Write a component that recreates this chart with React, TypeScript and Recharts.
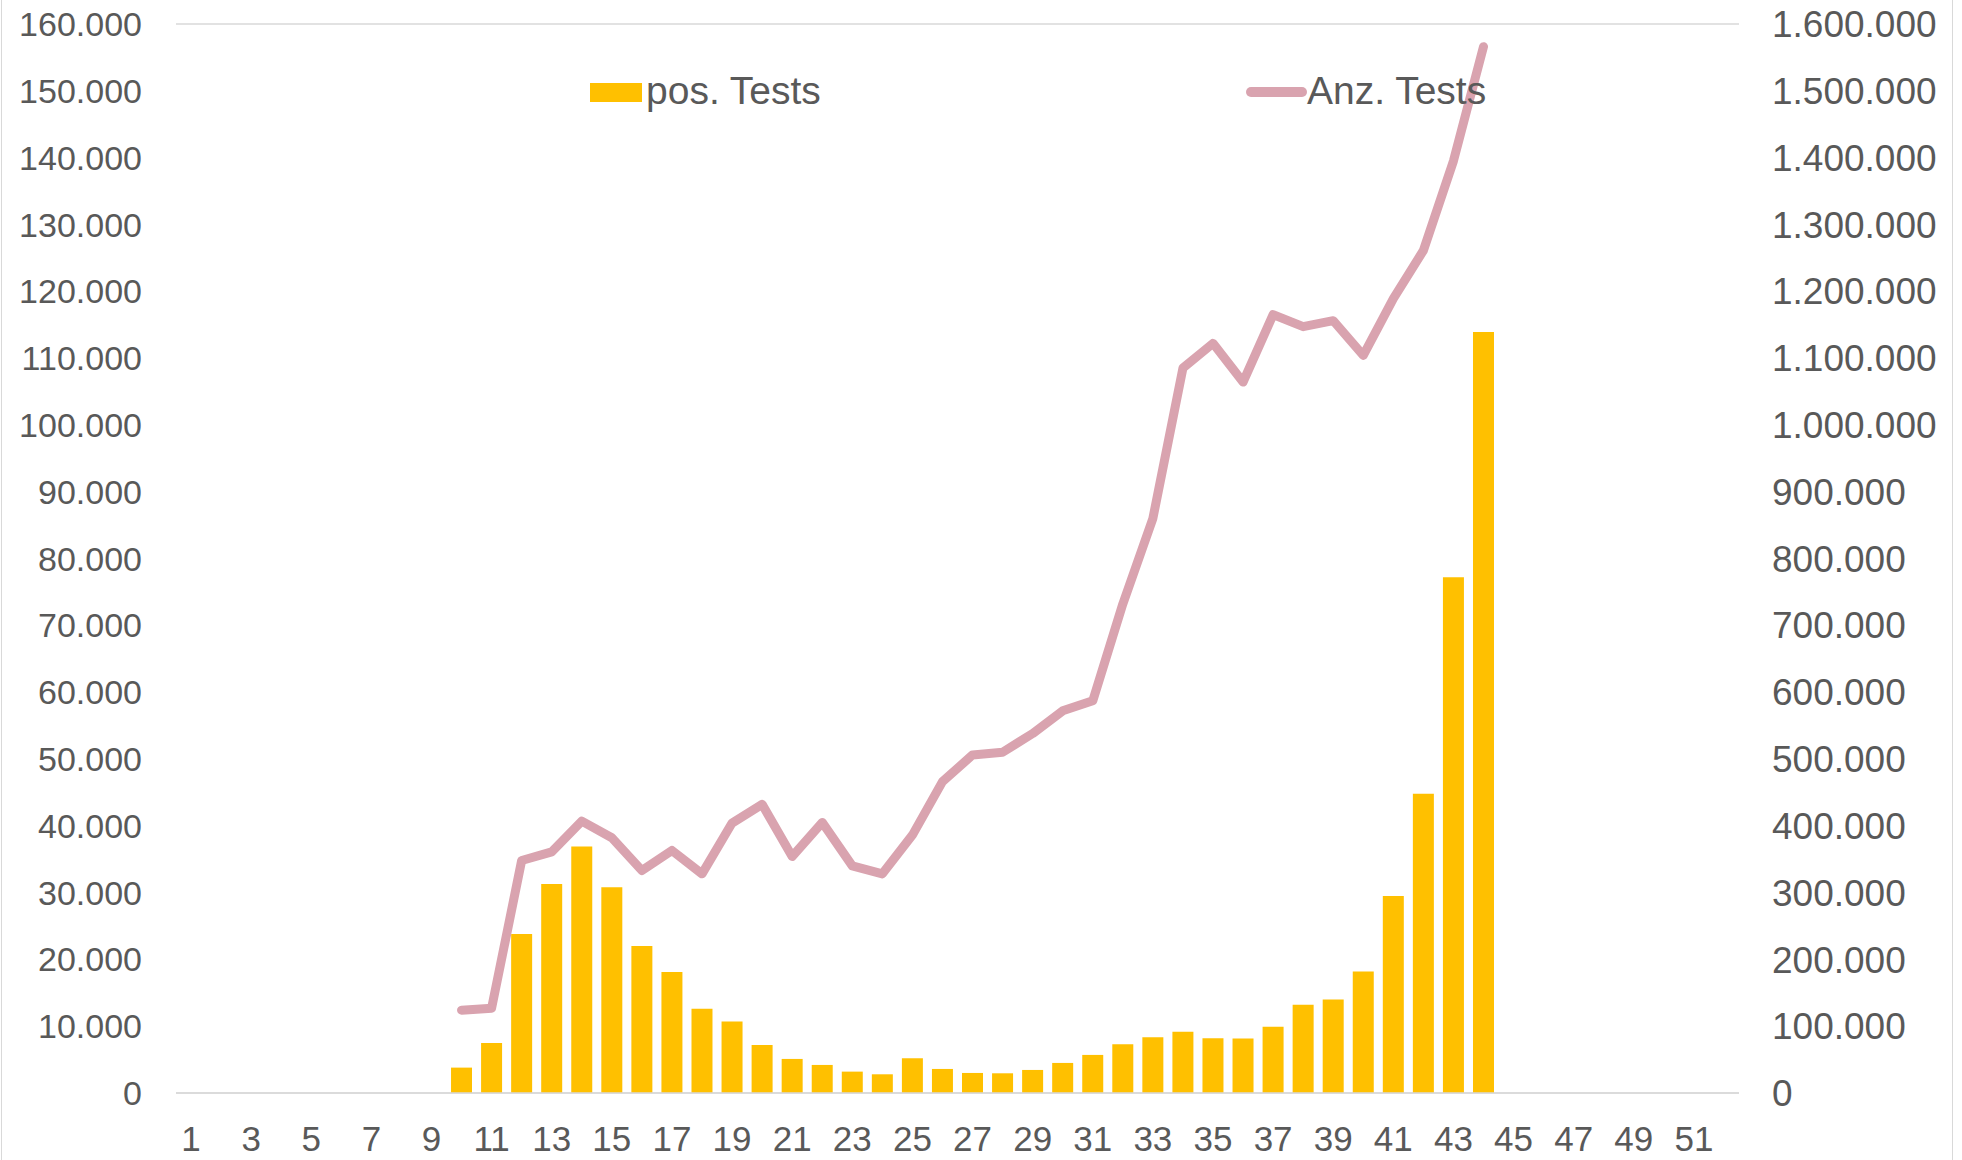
import React from 'react';
import { ComposedChart, Bar, Line, XAxis, YAxis, CartesianGrid, Legend } from 'recharts';

const weeks: number[] = Array.from({ length: 52 }, (_, i) => i + 1);

// pos. Tests for weeks 10..44
const posTestsFromWeek10: number[] = [
  3800, 7500, 23800, 31300, 36900, 30800, 22000, 18100, 12600, 10700,
  7200, 5100, 4200, 3200, 2800, 5200, 3600, 3000, 2950, 3450,
  4500, 5700, 7300, 8350, 9150, 8200, 8150, 9900, 13200, 14000,
  18200, 29500, 44800, 77200, 113900,
];

// Anz. Tests for weeks 10..44
const anzTestsFromWeek10: number[] = [
  124000, 127000, 348000, 361000, 407000, 382000, 333000, 363000, 328000, 404000,
  432000, 354000, 405000, 340000, 328000, 386000, 466000, 506000, 510000, 538000,
  572000, 587000, 732000, 860000, 1085000, 1122000, 1064000, 1165000, 1147000, 1156000,
  1104000, 1189000, 1261000, 1395000, 1566000,
];

const FIRST_WEEK = 10;

const leftTicks: number[] = [0, 10000, 20000, 30000, 40000, 50000, 60000, 70000, 80000, 90000, 100000, 110000, 120000, 130000, 140000, 150000, 160000];
const rightTicks: number[] = [0, 100000, 200000, 300000, 400000, 500000, 600000, 700000, 800000, 900000, 1000000, 1100000, 1200000, 1300000, 1400000, 1500000, 1600000];

const data = weeks.map((w) => {
  const idx = w - FIRST_WEEK;
  return {
    week: w,
    pos: idx >= 0 && idx < posTestsFromWeek10.length ? posTestsFromWeek10[idx] : null,
    anz: idx >= 0 && idx < anzTestsFromWeek10.length ? anzTestsFromWeek10[idx] : null,
  };
});

const fmt = (v: number) => String(v).replace(/\B(?=(\d{3})+(?!\d))/g, '.');

const FONT = '"Liberation Sans", Arial, sans-serif';
const TEXT = '#595959';
const BAR = '#FFC000';
const LINE = '#D9A3AF';

const LegendContent = () => (
  <div style={{ position: 'relative', width: 1962, height: 0 }}>
    <div style={{ position: 'absolute', left: 590, top: 83, width: 52, height: 19, background: BAR }} />
    <div style={{ position: 'absolute', left: 646, top: 71, fontSize: 39, lineHeight: '39px', color: TEXT, fontFamily: FONT, whiteSpace: 'nowrap' }}>pos. Tests</div>
    <div style={{ position: 'absolute', left: 1246, top: 87, width: 61, height: 10, borderRadius: 5, background: LINE }} />
    <div style={{ position: 'absolute', left: 1307, top: 71, fontSize: 39, lineHeight: '39px', color: TEXT, fontFamily: FONT, whiteSpace: 'nowrap' }}>Anz. Tests</div>
  </div>
);

export default function App() {
  return (
    <div style={{ position: 'absolute', left: 0, top: 0, width: 1962, height: 1160, background: '#fff' }}>
      <div style={{ position: 'absolute', left: 1, top: 0, width: 1952, height: 1160, borderLeft: '1.5px solid #d9d9d9', borderRight: '1.5px solid #d9d9d9', boxSizing: 'border-box' }} />
      <ComposedChart
        width={1962}
        height={1160}
        data={data}
        margin={{ top: 24, right: 0, bottom: 0, left: 0 }}
        barCategoryGap="15%"
        style={{ fontFamily: FONT }}
      >
        <CartesianGrid vertical={false} stroke="#d9d9d9" strokeWidth={1.5} />
        <XAxis
          dataKey="week"
          interval={1}
          height={67}
          tickLine={false}
          tickSize={0}
          tickMargin={33}
          axisLine={{ stroke: '#d9d9d9', strokeWidth: 1.5 }}
          tick={{ fill: TEXT, fontSize: 35, fontFamily: FONT }}
        />
        <YAxis
          yAxisId="left"
          orientation="left"
          width={176}
          domain={[0, 160000]}
          ticks={leftTicks}
          interval={0}
          tickFormatter={fmt}
          tickLine={false}
          axisLine={false}
          tickSize={0}
          tickMargin={34}
          tick={{ fill: TEXT, fontSize: 34, fontFamily: FONT }}
        />
        <YAxis
          yAxisId="right"
          orientation="right"
          width={223}
          domain={[0, 1600000]}
          ticks={rightTicks}
          interval={0}
          tickFormatter={fmt}
          tickLine={false}
          axisLine={false}
          tickSize={0}
          tickMargin={33}
          tick={{ fill: TEXT, fontSize: 37, fontFamily: FONT }}
        />
        <Legend content={<LegendContent />} wrapperStyle={{ position: 'absolute', left: 0, top: 0, width: 1962, height: 0 }} />
        <Bar yAxisId="left" dataKey="pos" name="pos. Tests" fill={BAR} isAnimationActive={false} />
        <Line
          yAxisId="right"
          dataKey="anz"
          name="Anz. Tests"
          stroke={LINE}
          strokeWidth={9}
          strokeLinecap="round"
          strokeLinejoin="round"
          dot={false}
          activeDot={false}
          type="linear"
          isAnimationActive={false}
        />
      </ComposedChart>
    </div>
  );
}
